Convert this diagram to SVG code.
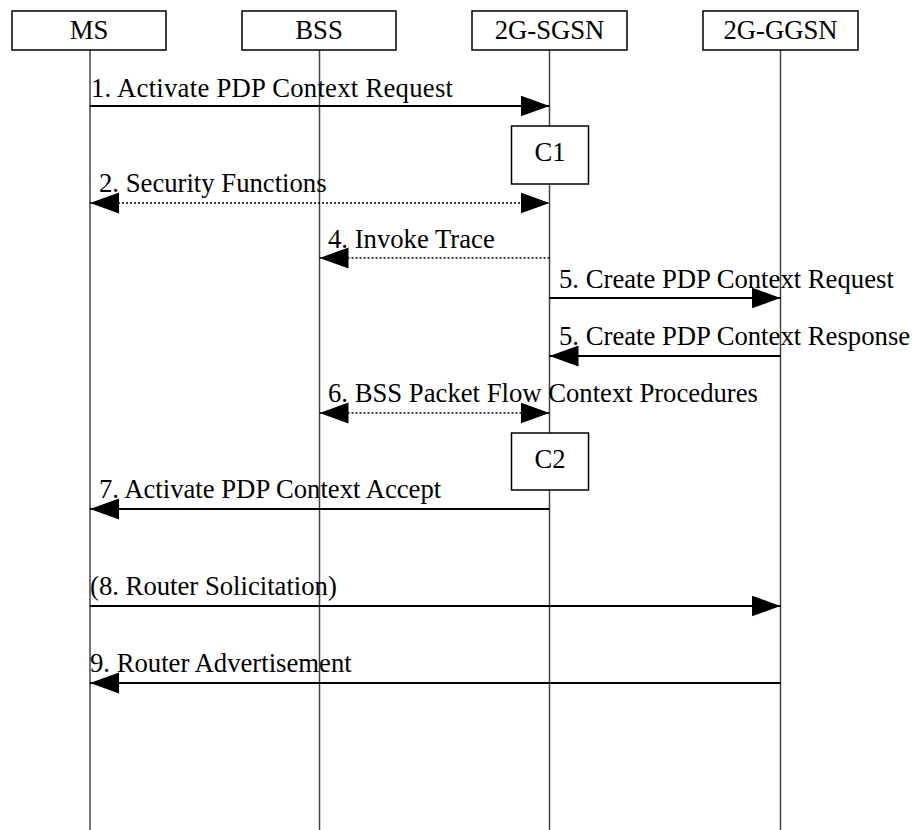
<svg xmlns="http://www.w3.org/2000/svg" width="912" height="830" viewBox="0 0 912 830">
<style>
text{font-family:"Liberation Serif","Times New Roman",serif;font-size:26.7px;fill:#000}
.box{fill:#fff;stroke:#000;stroke-width:1.5}
.life{stroke:#444;stroke-width:1.5}
.sol{stroke:#000;stroke-width:2.2;fill:none}
.dot{stroke:#000;stroke-width:1.5;stroke-dasharray:2 2;fill:none}
.c{text-anchor:middle}
</style>
<defs>
<marker id="ah" markerUnits="userSpaceOnUse" markerWidth="30" markerHeight="22" refX="29" refY="10.5" orient="auto-start-reverse" viewBox="0 0 30 22">
<path d="M0,0 L29,10.5 L0,21 Z" fill="#000"/>
</marker>
</defs>
<rect width="912" height="830" fill="#fff"/>
<g id="lifelines">
<line class="life" x1="90" y1="50" x2="90" y2="830"/>
<line class="life" x1="319.5" y1="50" x2="319.5" y2="830"/>
<line class="life" x1="549.5" y1="50" x2="549.5" y2="830"/>
<line class="life" x1="780.5" y1="50" x2="780.5" y2="830"/>
</g>
<g id="MS"><rect class="box" x="12" y="11" width="154" height="39"/><text class="c" x="89" y="39">MS</text></g>
<g id="BSS"><rect class="box" x="242" y="11" width="154" height="39"/><text class="c" x="319" y="39">BSS</text></g>
<g id="SGSN"><rect class="box" x="472" y="11" width="155" height="39"/><text class="c" x="549.5" y="39">2G-SGSN</text></g>
<g id="GGSN"><rect class="box" x="703" y="11" width="155" height="39"/><text class="c" x="780.5" y="39">2G-GGSN</text></g>
<g id="C1"><rect class="box" x="511.5" y="126" width="77" height="58" stroke-width="2"/><text class="c" x="550" y="161">C1</text></g>
<g id="C2"><rect class="box" x="511.5" y="433" width="77" height="57" stroke-width="2"/><text class="c" x="550" y="468">C2</text></g>
<g id="connectors">
<line class="sol" x1="90" y1="106" x2="549.5" y2="106" marker-end="url(#ah)"/>
<line class="dot" x1="90" y1="203" x2="549.5" y2="203" marker-start="url(#ah)" marker-end="url(#ah)"/>
<line class="dot" x1="549.5" y1="258" x2="319.5" y2="258" marker-end="url(#ah)"/>
<line class="sol" x1="549.5" y1="298" x2="780.5" y2="298" marker-end="url(#ah)"/>
<line class="sol" x1="780.5" y1="356" x2="549.5" y2="356" marker-end="url(#ah)"/>
<line class="dot" x1="319.5" y1="413" x2="549.5" y2="413" marker-start="url(#ah)" marker-end="url(#ah)"/>
<line class="sol" x1="549.5" y1="509" x2="90" y2="509" marker-end="url(#ah)"/>
<line class="sol" x1="90" y1="606" x2="780.5" y2="606" marker-end="url(#ah)"/>
<line class="sol" x1="780.5" y1="683" x2="90" y2="683" marker-end="url(#ah)"/>
</g>
<g id="labels">
<text x="91" y="97" textLength="362">1. Activate PDP Context Request</text>
<text x="99" y="192">2. Security Functions</text>
<text x="328" y="248">4. Invoke Trace</text>
<text x="559" y="288">5. Create PDP Context Request</text>
<text x="559" y="345">5. Create PDP Context Response</text>
<text x="328" y="402">6. BSS Packet Flow Context Procedures</text>
<text x="99" y="498">7. Activate PDP Context Accept</text>
<text x="90" y="595">(8. Router Solicitation)</text>
<text x="90" y="672">9. Router Advertisement</text>
</g>
</svg>
